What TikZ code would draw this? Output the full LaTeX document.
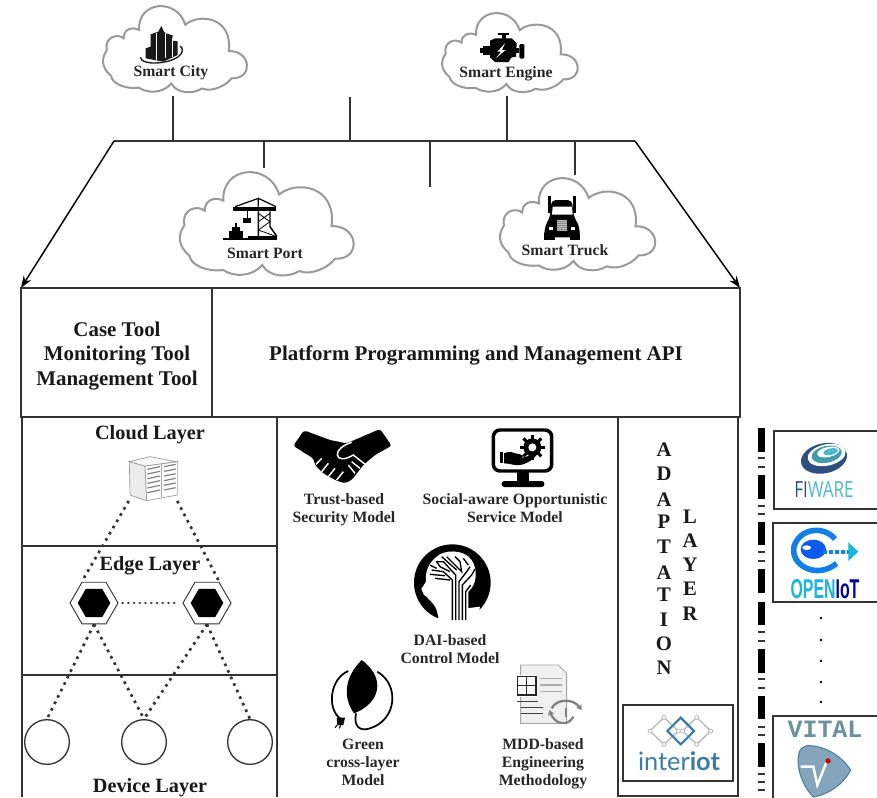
\documentclass[tikz,border=0pt]{standalone}
\usepackage{fontspec}
\usepackage{graphicx}
\setmainfont{Liberation Serif}
\newfontfamily\logosans{Open Sans}
\newfontfamily\logolato{Lato}
\newfontfamily\logoarial{Liberation Sans}
\newfontfamily\logomono{Liberation Mono}
\usetikzlibrary{arrows.meta,shapes.geometric}
\definecolor{ln}{HTML}{333333}
\definecolor{cl}{HTML}{9A9A9A}
\definecolor{fnavy}{HTML}{2F4F7F}
\definecolor{fteal}{HTML}{4FB8C9}
\definecolor{fsky}{HTML}{19B5DC}
\definecolor{iblue}{HTML}{3A7BA8}
\definecolor{vgray}{HTML}{6D919B}
\definecolor{vblue}{HTML}{4F7F9E}
\tikzset{
  box/.style={draw=ln,line width=1.1pt,fill=none},
  stub/.style={draw=ln,line width=1pt},
  dots/.style={draw=ln,line width=2pt,dash pattern=on 2pt off 3.4pt},
  hdots/.style={draw=ln,line width=2.2pt,line cap=round,dash pattern=on .1pt off 4.2pt},
  big/.style={font=\bfseries\fontsize{15.2}{18}\selectfont,text=black!90,align=center,inner sep=0pt},
  bigger/.style={font=\bfseries\fontsize{15.7}{18.4}\selectfont,text=black!90,align=center,inner sep=0pt},
  small/.style={font=\bfseries\fontsize{11.8}{13.6}\selectfont,text=black!85,align=center,inner sep=0pt},
  letter/.style={font=\bfseries\fontsize{15.5}{18}\selectfont,text=black!90,inner sep=0pt},
  cloudline/.style={draw=cl,line width=1.5pt,fill=white},
  devc/.style={circle,draw=ln,line width=1pt,minimum size=33.5pt,inner sep=0pt},
  hexo/.style={regular polygon,regular polygon sides=6,draw=ln,line width=.7pt,minimum size=36pt,inner sep=0pt,fill=white},
  hexi/.style={regular polygon,regular polygon sides=6,fill=black,minimum size=24.5pt,inner sep=0pt},
  z1/.style={shift={(0,0)},x=.25pt,y=-.25pt},
  z2/.style={shift={(440,0)},x=.25pt,y=-.25pt},
  z3/.style={shift={(0,410)},x=.25pt,y=-.25pt},
  z4/.style={shift={(280,415)},x=.25pt,y=-.25pt},
  z5/.style={shift={(610,415)},x=.25pt,y=-.25pt},
}
\newcommand{\mycloud}[4]{%
  \begin{scope}[shift={(#1,#2)},x=#3*.0075pt,y=-#4*.0075pt]
  \path[cloudline] (2,52) .. controls (0,36) and (10,32) .. (14,38)
   .. controls (14,27) and (20,24) .. (25,28)
   .. controls (24,-6) and (52,-10) .. (58,22)
   .. controls (68,8) and (92,13) .. (89,53)
   .. controls (105,52) and (107,86) .. (91,85)
   .. controls (88,92) and (78,102) .. (70,97)
   .. controls (63,104) and (52,103) .. (48,91)
   .. controls (42,103) and (31,103) .. (25,96)
   .. controls (16,98) and (6,92) .. (5,82)
   .. controls (-2,72) and (-2,62) .. (2,52) -- cycle;
  \end{scope}}
\begin{document}
\begin{tikzpicture}[x=.75pt,y=-.75pt]
\useasboundingbox (0,0) rectangle (877,797);
\fill[white] (0,0) rectangle (877,797);

% clouds
\mycloud{104}{6}{140}{85}
\mycloud{181}{172}{169}{102}
\mycloud{443}{13}{132}{78}
\mycloud{501}{178}{151}{91}

% connector ends
\coordinate (tl) at (114,141); \coordinate (tr) at (635,141);
\coordinate (al) at (21,288); \coordinate (ar) at (740,288);
\coordinate (a1) at (173,96);  \coordinate (b1) at (173,141);
\coordinate (a2) at (350,97);  \coordinate (b2) at (350,141);
\coordinate (a3) at (507,96);  \coordinate (b3) at (507,141);
\coordinate (a4) at (264,168); \coordinate (b4) at (264,141);
\coordinate (a5) at (430,187); \coordinate (b5) at (430,141);
\coordinate (a6) at (575,175); \coordinate (b6) at (575,141);
\draw[stub] (tl) -- (tr);
\foreach \i in {1,...,6} \draw[stub] (a\i) -- (b\i);
\draw[draw=black,line width=1.1pt,-{Stealth[length=9pt,width=6.5pt]}] (tl) -- (al);
\draw[draw=black,line width=1.1pt,-{Stealth[length=9pt,width=6.5pt]}] (tr) -- (ar);

% frames
\draw[box] (21,288) rectangle (740,417);
\draw[box] (212,288) -- (212,417);
\draw[box] (22,797) -- (22,417) -- (277,417) -- (277,797);
\draw[box] (22,546) -- (277,546);
\draw[box] (22,675) -- (277,675);
\draw[box] (618,797) -- (618,417) -- (738,417) -- (738,797);
\draw[box] (618,796) -- (738,796);
\draw[box] (277,417) -- (618,417);
\draw[box] (623,705) rectangle (733,781);
\draw[box] (774,431) rectangle (880,509);
\draw[box] (773,523) rectangle (880,602);
\draw[box] (880,716) -- (773,716) -- (773,800);

% texts
\node[small] (tcity) at (171,73) {Smart City};
\node[small] (tengine) at (506,74) {Smart Engine};
\node[small] (tport) at (265,253) {Smart Port};
\node[small] (ttruck) at (565,250) {Smart Truck};
\node[bigger] (tcase) at (117,356) {Case Tool\\Monitoring Tool\\Management Tool};
\node[bigger] (tapi) at (476,355) {Platform Programming and Management API};
\node[big] (tcloud) at (150,435) {Cloud Layer};
\node[big] (tedge) at (150,566) {Edge Layer};
\node[big] (tdev) at (150,788) {Device Layer};
\node[small] (ttrust) at (344,510) {Trust-based\\Security Model};
\node[small] (tsoc) at (515,508) {Social-aware Opportunistic\\Service Model};
\node[small] (tdai) at (450,649) {DAI-based\\Control Model};
\node[small] (tgreen) at (363,762) {Green\\cross-layer\\Model};
\node[small] (tmdd) at (543,764) {MDD-based\\Engineering\\Methodology};

% adaptation letters
\foreach \c/\y [count=\i] in {A/450,D/474,A/500,P/522,T/547,A/573,T/595,I/620,O/644,N/668}
  \node[letter] (ad\i) at (664,\y) {\c};
\foreach \c/\y [count=\i] in {L/517,A/541,Y/565,E/589,R/614}
  \node[letter] (ly\i) at (690,\y) {\c};

% layer graph
\node[minimum width=36pt,minimum height=31pt,inner sep=0pt] (srv) at (153,480) {};
\node[hexo] (h1) at (94,603) {};
\node[hexo] (h2) at (207,603) {};
\node[hexi] at (94,603) {};
\node[hexi] at (207,603) {};
\node[devc] (d1) at (47,742) {};
\node[devc] (d2) at (144,742) {};
\node[devc] (d3) at (250,742) {};
\draw[dots] (srv.south west) -- (h1.corner 2);
\draw[dots] (srv.south east) -- (h2.corner 1);
\draw[hdots,shorten >=3pt,shorten <=3pt] (h1.east) -- (h2.west);
\draw[dots] (h1.south) -- (d1.north);
\draw[dots] (h1.south) -- (d2.north);
\draw[dots] (h2.south) -- (d2.north);
\draw[dots] (h2.south) -- (d3.north);

% server icon
\begin{scope}[z3]
 \draw[gray!80,line width=.5pt,fill=gray!15] (388,155) -- (435,168) -- (440,272) -- (390,255) -- cycle;
 \draw[gray!80,line width=.5pt,fill=white] (435,168) -- (532,155) -- (532,255) -- (440,272) -- cycle;
 \draw[gray!80,line width=.5pt,fill=gray!5] (388,155) -- (450,140) -- (530,155) -- (435,168) -- cycle;
 \draw[gray!70,line width=.8pt] (485,162) -- (485,262);
 \foreach \d in {0,14,...,70} {
  \draw[gray,line width=.9pt] (442,178+\d) -- (480,170+\d);
  \draw[gray,line width=.9pt] (492,170+\d) -- (527,163+\d);
 }
\end{scope}

% city icon
\begin{scope}[z1]
 \fill[black!90] (437,175) -- (437,145) -- (452,140) -- (452,103) -- (475,95) -- (484,78) -- (492,95) -- (498,100) -- (518,106) -- (518,122) -- (533,124) -- (533,165) -- (490,185) -- cycle;
 \draw[white,line width=.5pt] (470,100) -- (470,180) (497,100) -- (497,175) (517,115) -- (517,170);
 \draw[black!90,line width=1pt] (422,172) .. controls (420,195) and (500,195) .. (535,170) .. controls (548,160) and (552,145) .. (540,138);
\end{scope}

% engine icon
\begin{scope}[z2]
 \fill[black] (175,98) rectangle (208,106);
 \fill[black] (185,106) rectangle (198,118);
 \fill[black] (150,122) -- (165,115) -- (215,115) -- (230,130) -- (228,170) -- (215,172) -- (205,186) -- (165,186) -- (150,172) -- cycle;
 \fill[black] (128,138) rectangle (150,165);
 \fill[black] (119,145) rectangle (128,158);
 \fill[black,rounded corners=1pt] (238,132) rectangle (253,176);
 \fill[black] (228,145) rectangle (238,160);
 \fill[white] (195,130) -- (172,155) -- (183,155) -- (168,174) -- (197,150) -- (186,150) -- cycle;
\end{scope}

% port icon
\begin{scope}[z1]
 \fill[black] (700,620) rectangle (828,634);
 \draw[black,line width=.9pt] (705,620) -- (775,595) -- (775,620);
 \draw[black,line width=.9pt] (775,595) -- (828,620);
 \draw[black,line width=1.1pt] (775,634) -- (775,708) (810,634) -- (810,680) -- (830,708);
 \draw[black,line width=.6pt] (775,640) -- (810,665) -- (775,690) -- (825,708) (810,640) -- (775,665);
 \fill[black] (745,707) rectangle (832,717);
 \fill[black] (668,715) rectangle (832,719);
 \draw[black,line width=.6pt] (741,634) -- (741,655);
 \fill[black] (728,655) rectangle (752,670);
 \fill[black] (688,692) rectangle (728,714);
 \fill[black] (695,680) rectangle (720,692);
 \fill[black] (705,668) rectangle (712,680);
\end{scope}

% truck icon
\begin{scope}[z2]
 \fill[black] (325,588) rectangle (333,640);
 \fill[black] (400,588) rectangle (408,640);
 \fill[black,rounded corners=3pt] (335,600) -- (395,600) -- (402,650) -- (418,680) -- (420,712) -- (312,712) -- (315,680) -- (330,650) -- cycle;
 \fill[white] (338,620) -- (396,620) -- (398,644) -- (336,644) -- cycle;
 \fill[black] (312,700) rectangle (345,720);
 \fill[black] (390,700) rectangle (420,720);
 \fill[gray!55] (350,660) rectangle (382,692);
 \foreach \d in {664,670,...,688} \draw[gray!90,line width=.4pt] (350,\d) -- (382,\d);
 \fill[white] (326,682) rectangle (338,690);
 \fill[white] (394,682) rectangle (406,690);
\end{scope}

% handshake
\begin{scope}[z4]
 \fill[black,rounded corners=2pt] (40,92) -- (72,46) -- (150,75) -- (200,85) -- (300,42) -- (335,92) -- (285,120) -- (250,150) -- (215,195) -- (195,205) -- (165,195) -- (130,175) -- (105,150) -- (100,130) -- (75,115) -- cycle;
 \draw[white,line width=1.1pt] (215,82) .. controls (190,90) and (170,105) .. (172,120) .. controls (175,135) and (195,135) .. (220,120) -- (258,150);
 \draw[white,line width=1.1pt] (125,130) -- (108,148) (145,145) -- (125,170) (165,160) -- (145,185) (190,170) -- (170,195) (215,140) -- (240,160) (205,150) -- (225,175);
\end{scope}

% service monitor
\begin{scope}[z4]
 \draw[black,line width=2.6pt,rounded corners=5pt] (640,45) rectangle (815,168);
 \fill[black] (710,168) rectangle (748,200);
 \fill[black,rounded corners=2pt] (665,198) rectangle (793,216);
 \fill[black] (660,112) rectangle (668,145);
 \fill[black] (672,115) .. controls (690,105) and (700,115) .. (720,118) .. controls (735,120) and (730,130) .. (715,128) .. controls (735,130) and (750,120) .. (770,112) .. controls (775,120) and (750,145) .. (720,150) .. controls (700,152) and (690,145) .. (672,145) -- cycle;
 \fill[black] (757,97) circle[radius=27];
 \foreach \a in {0,45,...,315} \draw[black,line width=2.2pt] (757,97) ++(\a:20) -- ++(\a:18);
 \fill[white] (757,97) circle[radius=12];
\end{scope}

% DAI head
\begin{scope}[z4]
 \fill[black] (517,503) circle[radius=115];
 \fill[white] (470,425) .. controls (490,405) and (550,400) .. (575,435) .. controls (595,465) and (590,510) .. (565,530) -- (565,625) -- (480,625) -- (470,585) .. controls (460,560) and (445,555) .. (440,545) -- (432,540) -- (424,522) -- (438,500) .. controls (435,470) and (445,445) .. (470,425) -- cycle;
 \fill[white] (480,590) -- (600,575) -- (590,630) -- (470,630) -- cycle;
 \draw[black,line width=1pt] (517,615) -- (517,495) -- (490,470) -- (455,465)
   (527,615) -- (527,480) -- (490,440) -- (470,440) -- (480,455) -- (510,470)
   (537,615) -- (537,500) -- (560,470) -- (570,455)
   (547,615) -- (547,510) -- (575,480) -- (585,462)
   (557,615) -- (557,530) -- (572,510)
   (500,425) -- (545,470) -- (540,440) -- (525,425)
   (465,490) -- (510,495) (450,450) -- (470,460)
   (485,425) -- (530,465) (550,430) -- (565,450) (450,478) -- (495,482);
\end{scope}

% leaf
\begin{scope}[z4]
 \fill[black] (245,735) .. controls (190,790) and (190,850) .. (222,895) .. controls (300,865) and (320,790) .. (245,735) -- cycle;
 \draw[black,line width=1.3pt] (205,768) .. controls (150,790) and (140,880) .. (180,910);
 \draw[black,line width=1.3pt] (292,770) .. controls (360,810) and (350,915) .. (270,940) .. controls (240,950) and (220,935) .. (228,895);
 \fill[black] (170,908) -- (195,908) -- (190,930) -- (172,930) -- cycle;
 \draw[black,line width=.8pt] (172,930) -- (165,938) (182,930) -- (178,940);
\end{scope}

% document
\begin{scope}[z4]
 \draw[gray!70,line width=.7pt,fill=gray!12] (722,750) -- (835,750) -- (860,775) -- (860,925) -- (722,925) -- cycle;
 \foreach \d in {790,810,830} \draw[gray!65,line width=1pt] (780,\d) -- (845,\d);
 \fill[white] (705,780) rectangle (772,845);
 \draw[black!85,line width=1pt] (712,785) rectangle (768,840);
 \draw[black!85,line width=1pt] (740,785) -- (740,840) (712,812) -- (768,812);
 \draw[black!75,line width=.8pt] (712,860) -- (775,860) (722,878) -- (790,878) (722,895) -- (790,895);
 \draw[gray,line width=1.7pt,-{Stealth[length=4pt,width=5pt]}] (815,880) .. controls (830,850) and (880,850) .. (905,885);
 \draw[gray,line width=1.7pt,-{Stealth[length=4pt,width=5pt]}] (880,905) .. controls (865,935) and (825,930) .. (808,885);
 \draw[gray,line width=.8pt] (858,880) -- (858,905);
\end{scope}

% separator column
\begin{scope}[z5]
 \foreach \a in {40,180,320,462,560,702,842,984}
  \fill[black] (443,\a) rectangle (465,\a+71);
 \foreach \a in {130,157,272,297,412,437,652,677,792,818,935,960,1076,1100,1125}
  \fill[black!80] (444,\a-3) rectangle (464,\a+3);
\end{scope}
\foreach \y [count=\i] in {618,640,661,682,702}
  \node[circle,fill=black,minimum size=2pt,inner sep=0pt] (dot\i) at (821,\y) {};

% FIWARE logo
\begin{scope}[z5]
 \fill[fnavy,rotate around={12:(642,130)}] (642,130) ellipse[x radius=70,y radius=45];
 \fill[white,rotate around={12:(650,120)}] (650,120) ellipse[x radius=58,y radius=32];
 \fill[fteal!85!black,rotate around={12:(650,118)}] (650,118) ellipse[x radius=46,y radius=25];
 \fill[white,rotate around={12:(655,111)}] (655,111) ellipse[x radius=34,y radius=15];
 \fill[fteal,rotate around={12:(662,110)}] (662,110) ellipse[x radius=22,y radius=10];
\end{scope}
\node[inner sep=0pt,font=\logosans\fontsize{14.5}{15}\selectfont] (fiw) at (824,490) {\scalebox{.88}[1.15]{\textcolor{fnavy}{FI}\textcolor{fteal}{WARE}}};

% OpenIoT logo
\begin{scope}[z5]
 \draw[fsky!70!blue,line width=4.2pt] (675,372) .. controls (640,330) and (568,340) .. (552,395) .. controls (540,450) and (620,495) .. (680,445);
 \fill[blue!50!fsky] (610,403) ellipse[x radius=38,y radius=29];
 \fill[white] (590,398) ellipse[x radius=13,y radius=7];
 \draw[fsky!70!blue,line width=3pt,dash pattern=on 3pt off 1.5pt] (640,410) -- (720,410);
 \fill[fsky] (715,382) -- (745,410) -- (715,438) -- cycle;
\end{scope}
\node[inner sep=0pt,font=\logoarial\bfseries\fontsize{17}{17}\selectfont] (oiot) at (825,589) {\scalebox{.7}[1.2]{\textcolor{fsky}{OPEN}\textcolor{blue!60!black}{IoT}}};

% VITAL logo
\node[inner sep=0pt,font=\logomono\bfseries\fontsize{18.7}{19}\selectfont,text=vgray] (vit) at (825,729) {VITAL};
\begin{scope}[z5]
 \fill[vblue!70!white,draw=vblue,line width=.8pt] (590,992) .. controls (650,990) and (700,1030) .. (722,1065) .. controls (700,1110) and (650,1140) .. (610,1146) .. controls (575,1110) and (555,1050) .. (568,1010) .. controls (572,1000) and (580,995) .. (590,992) -- cycle;
 \draw[white,line width=1.8pt] (572,1055) -- (610,1055) -- (622,1110) -- (650,1040);
 \fill[red!80!black] (654,1038) circle[radius=8];
\end{scope}

% interiot logo
\begin{scope}[z5]
 \draw[gray!55,line width=1pt] (162,907) -- (205,948) -- (162,988) -- (120,948) -- cycle;
 \draw[gray!55,line width=1pt] (260,907) -- (302,948) -- (260,988) -- (218,948) -- cycle;
 \draw[iblue,line width=1.6pt] (212,908) -- (252,948) -- (212,988) -- (172,948) -- cycle;
 \foreach \p in {(162,907),(120,948),(162,988),(260,907),(302,948),(260,988),(205,948),(218,948)}
  \draw[gray!55,line width=.6pt,fill=white] \p circle[radius=6];
\end{scope}
\node[inner sep=0pt,font=\logolato\fontsize{19}{19}\selectfont,text=iblue] (iot) at (679,761) {inter\textbf{iot}};
\end{tikzpicture}
\end{document}
